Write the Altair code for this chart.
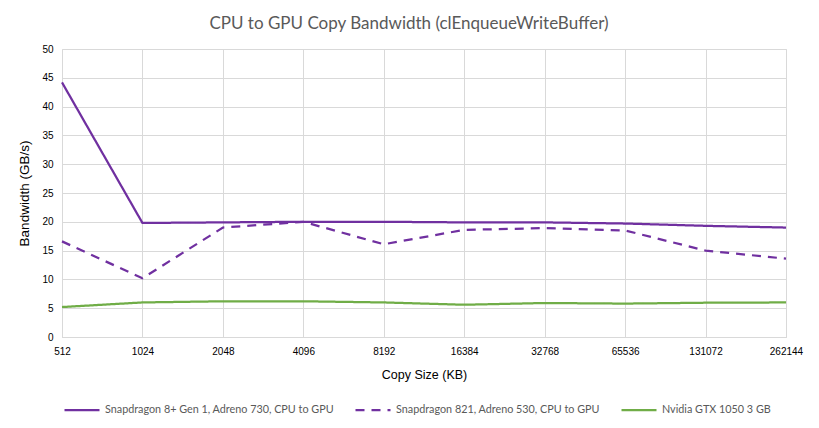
import altair as alt
import pandas as pd

sizes = ["512", "1024", "2048", "4096", "8192", "16384", "32768", "65536", "131072", "262144"]
series_names = [
    "Snapdragon 8+ Gen 1, Adreno 730, CPU to GPU",
    "Snapdragon 821, Adreno 530, CPU to GPU",
    "Nvidia GTX 1050 3 GB",
]
sd8_gen1 = [44.2, 19.8, 19.9, 20.0, 20.0, 19.9, 19.9, 19.7, 19.3, 19.0]
sd821 = [16.6, 10.2, 19.0, 20.0, 16.1, 18.6, 18.9, 18.5, 15.0, 13.6]
gtx1050 = [5.2, 6.0, 6.2, 6.2, 6.0, 5.6, 5.9, 5.8, 5.95, 6.0]
y_ticks = [0, 5, 10, 15, 20, 25, 30, 35, 40, 45, 50]

rows = []
for name, vals in zip(series_names, [sd8_gen1, sd821, gtx1050]):
    for s, v in zip(sizes, vals):
        rows.append({"size": s, "bw": v, "series": name})
df = pd.DataFrame(rows)

font = "Lato"
grey = "#595959"

leg = alt.Legend(orient="none", legendX=1, legendY=342, direction="horizontal",
                 symbolType="stroke", symbolSize=1225, symbolStrokeWidth=2.25,
                 columnPadding=17, labelOffset=4, padding=0,
                 labelFont=font, labelFontSize=10.8, labelColor=grey, labelLimit=400)

chart = alt.Chart(df).mark_line(strokeWidth=2.25).encode(
    x=alt.X("size:N", sort=sizes, title="Copy Size (KB)",
            scale=alt.Scale(type="point", padding=0),
            axis=alt.Axis(labelAngle=0, ticks=False, grid=True, gridColor="#D9D9D9",
                          domainColor="#D9D9D9", labelPadding=9, titlePadding=12,
                          titleFontWeight="normal", titleFontSize=12.5)),
    y=alt.Y("bw:Q", title="Bandwidth (GB/s)",
            scale=alt.Scale(domain=[0, 50], nice=False),
            axis=alt.Axis(values=y_ticks, ticks=False, domain=False, grid=True,
                          gridColor="#D9D9D9", labelPadding=9, titlePadding=10,
                          titleFontWeight="normal", titleFontSize=13.5)),
    color=alt.Color("series:N", scale=alt.Scale(domain=series_names,
                    range=["#7030A0", "#7030A0", "#70AD47"]), title=None, legend=leg),
    strokeDash=alt.StrokeDash("series:N", scale=alt.Scale(domain=series_names,
                              range=[[1, 0], [9, 7], [1, 0]]), title=None, legend=leg),
).properties(
    width=724,
    height=288,
    autosize=alt.AutoSizeParams(type="none"),
    padding={"left": 54, "top": 41, "right": 25, "bottom": 80},
    title=alt.Title("CPU to GPU Copy Bandwidth (clEnqueueWriteBuffer)", fontSize=17,
                    font=font, fontWeight="normal", color=grey, anchor="middle", dx=-15, offset=11),
).configure_view(stroke=None).configure_axis(
    labelFont=font, titleFont=font, labelFontSize=12,
    labelColor=grey, titleColor=grey,
).configure(background="white")

chart.save("out.html", embed_options={"renderer": "svg", "actions": False})
